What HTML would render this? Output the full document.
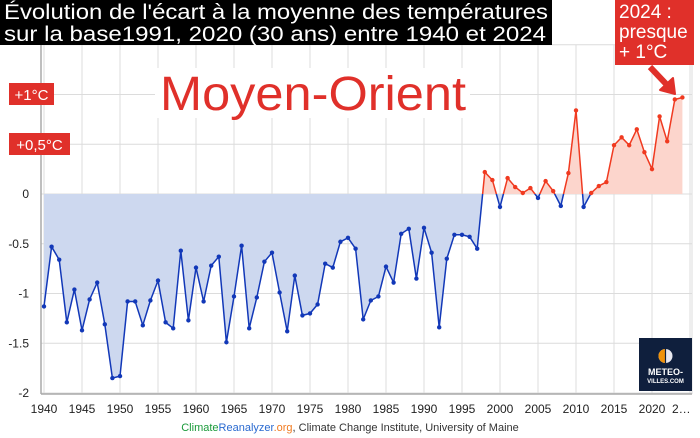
<!DOCTYPE html>
<html><head><meta charset="utf-8"><style>
body{margin:0;background:#fff;}
svg{display:block;font-family:"Liberation Sans",Arial,sans-serif;}
</style></head><body>
<svg id="s" width="700" height="438" viewBox="0 0 700 438" xmlns="http://www.w3.org/2000/svg">
<defs>
<clipPath id="pos"><rect x="0" y="0" width="700" height="194"/></clipPath>
<clipPath id="neg"><rect x="0" y="194" width="700" height="244"/></clipPath>
</defs>
<g id="grid" stroke="#dcdcdc" stroke-width="1"></g>
<g id="fills"></g>
<line x1="41" y1="45" x2="41" y2="394" stroke="#aaa" stroke-width="1.5"/>
<line x1="41" y1="394" x2="692" y2="394" stroke="#aaa" stroke-width="1.5"/>
<g id="lines"></g>
<g id="labels" font-size="12" fill="#222"></g>
<rect x="0" y="0" width="552" height="45" fill="#000"/>
<text x="4" y="19" font-size="21" fill="#fff" textLength="544" lengthAdjust="spacingAndGlyphs">Évolution de l'écart à la moyenne des températures</text>
<text x="4" y="41" font-size="21" fill="#fff" textLength="542" lengthAdjust="spacingAndGlyphs">sur la base1991, 2020 (30 ans) entre 1940 et 2024</text>
<rect x="155" y="68" width="315" height="50" fill="#fff"/>
<text x="160" y="110" font-size="48" fill="#e0302a" textLength="306" lengthAdjust="spacingAndGlyphs">Moyen-Orient</text>
<rect x="9" y="83" width="45" height="22" fill="#e0302a"/>
<text x="31.5" y="100" font-size="15" fill="#fff" text-anchor="middle">+1°C</text>
<rect x="9" y="133" width="61" height="22" fill="#e0302a"/>
<text x="39.5" y="150" font-size="15" fill="#fff" text-anchor="middle">+0,5°C</text>
<rect x="615" y="0" width="79" height="65" fill="#e0302a"/>
<text x="619" y="18" font-size="19" fill="#fff">2024 :</text>
<text x="619" y="38" font-size="19" fill="#fff">presque</text>
<text x="619" y="58" font-size="19" fill="#fff">+ 1°C</text>
<line x1="650" y1="67" x2="668" y2="86" stroke="#e0302a" stroke-width="6"/>
<polygon points="660,90 675,94 673,78" fill="#e0302a" stroke="#e0302a" stroke-width="2" stroke-linejoin="round"/>
<rect x="639" y="338" width="53" height="53" fill="#0f1f3d"/>
<circle cx="665.5" cy="356" r="7" fill="#e8e8f0"/>
<path d="M665.5,349 A7,7 0 0,0 665.5,363 Z" fill="#f0920a"/>
<line x1="665.5" y1="349" x2="665.5" y2="363" stroke="#0f1f3d" stroke-width="1.2"/>
<text x="665.5" y="375" font-size="9" font-weight="bold" fill="#fff" text-anchor="middle">METEO-</text>
<text x="665.5" y="383" font-size="6" font-weight="bold" fill="#fff" text-anchor="middle">VILLES.COM</text>
<text x="350" y="431" font-size="11" text-anchor="middle" fill="#333"><tspan fill="#1a9a3a">Climate</tspan><tspan fill="#2a6ad0">Reanalyzer</tspan><tspan fill="#f07a20">.org</tspan>, Climate Change Institute, University of Maine</text>
</svg>
<script>
var d=[-1.13,-0.53,-0.66,-1.29,-0.96,-1.37,-1.06,-0.89,-1.31,-1.85,-1.83,-1.08,-1.08,-1.32,-1.07,-0.87,-1.29,-1.35,-0.57,-1.27,-0.74,-1.08,-0.72,-0.63,-1.49,-1.03,-0.52,-1.35,-1.04,-0.68,-0.59,-0.99,-1.38,-0.82,-1.22,-1.20,-1.11,-0.70,-0.74,-0.48,-0.44,-0.55,-1.26,-1.07,-1.03,-0.73,-0.89,-0.40,-0.35,-0.85,-0.34,-0.59,-1.34,-0.65,-0.41,-0.41,-0.43,-0.55,0.22,0.14,-0.13,0.16,0.07,0.01,0.06,-0.04,0.13,0.03,-0.12,0.21,0.84,-0.13,0.01,0.08,0.12,0.49,0.57,0.49,0.65,0.42,0.25,0.78,0.53,0.95,0.97];
function X(i){return 44+i*7.6;} function Y(v){return 194-v*99.5;}
var NS="http://www.w3.org/2000/svg";
function el(p,t,a){var e=document.createElementNS(NS,t);for(var k in a)e.setAttribute(k,a[k]);document.getElementById(p).appendChild(e);return e;}
for(var y=0;y<=85;y+=5){el("grid","line",{x1:X(y),y1:45,x2:X(y),y2:394});if(y<85){var t=el("labels","text",{x:X(y),y:413,"text-anchor":"middle"});t.textContent=y==80?"2020":(y==85?"":(1940+y));}}
el("grid","line",{x1:692,y1:45,x2:692,y2:394});
var l2=el("labels","text",{x:672,y:413});l2.textContent="2…";
for(var v=-2;v<=1.5;v+=0.5){el("grid","line",{x1:41,y1:Y(v),x2:692,y2:Y(v)});if(v<=0){var t=el("labels","text",{x:29,y:Y(v)+4,"text-anchor":"end"});t.textContent=v==0?"0":(v%1==0?v:v.toFixed(1));}}
var pts=d.map(function(v,i){return X(i).toFixed(1)+","+Y(v).toFixed(1);}).join(" ");
var area="44,194 "+pts+" "+X(d.length-1)+",194";
el("fills","polygon",{points:area,fill:"#cdd8ef","clip-path":"url(#neg)"});
el("fills","polygon",{points:area,fill:"#fcd5cc","clip-path":"url(#pos)"});
el("lines","polyline",{points:pts,fill:"none",stroke:"#1238b8","stroke-width":1.5,"clip-path":"url(#neg)"});
el("lines","polyline",{points:pts,fill:"none",stroke:"#f03a20","stroke-width":1.5,"clip-path":"url(#pos)"});
d.forEach(function(v,i){el("lines","circle",{cx:X(i),cy:Y(v),r:2.2,fill:v>=0?"#f03a20":"#1238b8"});});
</script>
</body></html>
